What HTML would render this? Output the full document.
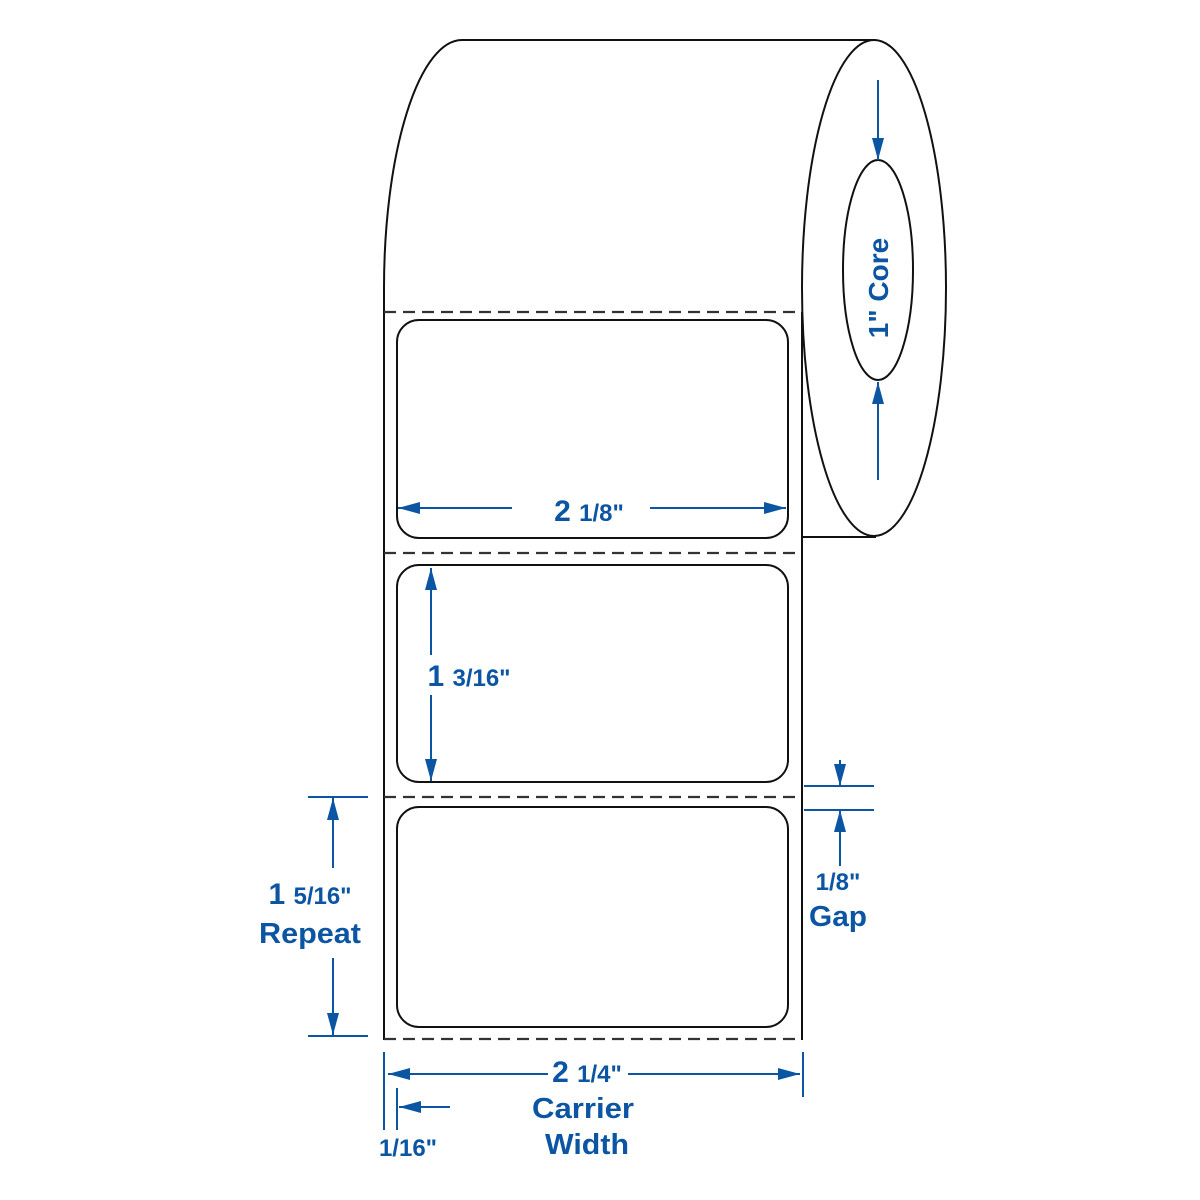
<!DOCTYPE html>
<html><head><style>body{margin:0;background:#fff}svg{display:block}text{font-family:"Liberation Sans",sans-serif;font-weight:bold;fill:#0b55a3}</style></head><body>
<svg width="1200" height="1200" viewBox="0 0 1200 1200" xmlns="http://www.w3.org/2000/svg">
<defs>
<marker id="b" viewBox="0 0 22 12" refX="22" refY="6" markerWidth="22" markerHeight="12" orient="auto-start-reverse" markerUnits="userSpaceOnUse"><path d="M0,0L22,6L0,12z" fill="#0b55a3"/></marker></defs>
<g fill="none" stroke="#111" stroke-width="2">
<path d="M384,1040 L384,288 A78,248 0 0 1 462,40 L876,40"/>
<ellipse cx="874" cy="288" rx="72" ry="248"/>
<ellipse cx="878" cy="270" rx="35" ry="110"/>
<line x1="802" y1="537" x2="876" y2="537"/>
<line x1="802" y1="312" x2="802" y2="1040"/>
<g stroke="#333" stroke-width="2.2" stroke-dasharray="12,7"><line x1="384" y1="312" x2="802" y2="312"/><line x1="384" y1="553" x2="802" y2="553"/><line x1="384" y1="797" x2="802" y2="797"/><line x1="384" y1="1039" x2="802" y2="1039"/></g>
<rect x="397" y="320" width="391" height="218" rx="22"/>
<rect x="397" y="565" width="391" height="217" rx="22"/>
<rect x="397" y="807" width="391" height="220" rx="22"/>
</g>
<g stroke="#0b55a3" stroke-width="2" fill="none">
<line x1="878" y1="80" x2="878" y2="160" marker-end="url(#b)"/>
<line x1="878" y1="480" x2="878" y2="382" marker-end="url(#b)"/>
<line x1="512" y1="508" x2="398" y2="508" marker-end="url(#b)"/>
<line x1="650" y1="508" x2="786" y2="508" marker-end="url(#b)"/>
<line x1="431" y1="655" x2="431" y2="568" marker-end="url(#b)"/>
<line x1="431" y1="695" x2="431" y2="781" marker-end="url(#b)"/>
<line x1="840" y1="760" x2="840" y2="786" marker-end="url(#b)"/>
<line x1="840" y1="866" x2="840" y2="810" marker-end="url(#b)"/>
<line x1="804" y1="786" x2="874" y2="786"/><line x1="804" y1="810" x2="874" y2="810"/>
<line x1="308" y1="797" x2="368" y2="797"/><line x1="308" y1="1036" x2="368" y2="1036"/>
<line x1="333" y1="868" x2="333" y2="798" marker-end="url(#b)"/>
<line x1="333" y1="958" x2="333" y2="1035" marker-end="url(#b)"/>
<line x1="384" y1="1052" x2="384" y2="1130"/><line x1="803" y1="1052" x2="803" y2="1097"/>
<line x1="397" y1="1088" x2="397" y2="1130"/>
<line x1="548" y1="1074" x2="388" y2="1074" marker-end="url(#b)"/>
<line x1="628" y1="1074" x2="800" y2="1074" marker-end="url(#b)"/>
<line x1="450" y1="1107" x2="399" y2="1107" marker-end="url(#b)"/>
</g>
<text transform="translate(888,288) rotate(-90)" text-anchor="middle" font-size="28">1" Core</text>
<text x="589" y="521" text-anchor="middle" font-size="30">2 <tspan font-size="24">1/8"</tspan></text>
<text x="469" y="686" text-anchor="middle" font-size="30">1 <tspan font-size="24">3/16"</tspan></text>
<text x="838" y="890" text-anchor="middle" font-size="24">1/8"</text>
<text x="838" y="926" text-anchor="middle" font-size="29" textLength="58" lengthAdjust="spacingAndGlyphs">Gap</text>
<text x="310" y="904" text-anchor="middle" font-size="30">1 <tspan font-size="24">5/16"</tspan></text>
<text x="310" y="943" text-anchor="middle" font-size="29" textLength="102" lengthAdjust="spacingAndGlyphs">Repeat</text>
<text x="587" y="1082" text-anchor="middle" font-size="30">2 <tspan font-size="24">1/4"</tspan></text>
<text x="583" y="1118" text-anchor="middle" font-size="29" textLength="102" lengthAdjust="spacingAndGlyphs">Carrier</text>
<text x="587" y="1154" text-anchor="middle" font-size="29" textLength="84" lengthAdjust="spacingAndGlyphs">Width</text>
<text x="408" y="1156" text-anchor="middle" font-size="24">1/16"</text>
</svg>
</body></html>
